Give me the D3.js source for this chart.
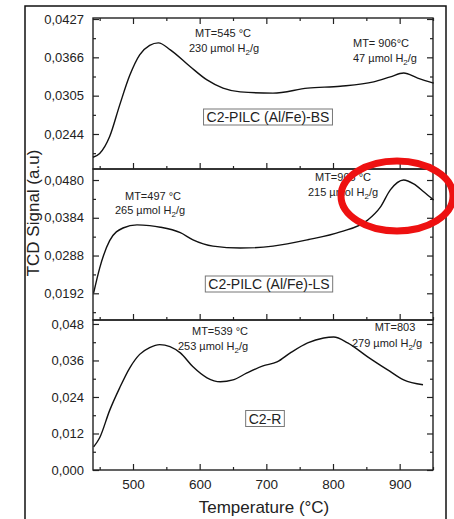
<!DOCTYPE html>
<html>
<head>
<meta charset="utf-8">
<script src="https://cdnjs.cloudflare.com/ajax/libs/d3/7.8.5/d3.min.js"></script>
<style>
    body { margin: 0; background: #fff; }
    svg text { font-family: "Liberation Sans", Arial, sans-serif; fill: #222; }
</style>
</head>
<body>
<div id="chart"></div>
<script>

// TPR curves (temperature in °C, TCD signal in a.u.)
let bsTemp = [440, 450, 465, 480, 495, 510, 525, 538, 556, 586, 611, 635, 661, 710, 762, 811, 861, 886, 906, 927, 951];
let bsSignal = [0.0207, 0.0213, 0.0240, 0.0290, 0.0337, 0.0370, 0.0385, 0.0389, 0.0378, 0.0351, 0.0330, 0.0317, 0.0311, 0.0309, 0.0317, 0.0320, 0.0327, 0.0335, 0.0341, 0.0333, 0.0325];

let lsTemp = [441, 450, 465, 485, 506, 525, 541, 571, 590, 620, 661, 710, 762, 811, 852, 871, 886, 906, 921, 936, 951];
let lsSignal = [0.0193, 0.0256, 0.0326, 0.0358, 0.0366, 0.0364, 0.0360, 0.0346, 0.0328, 0.0312, 0.0307, 0.0312, 0.0328, 0.0348, 0.0378, 0.0411, 0.0455, 0.0480, 0.0470, 0.0450, 0.0429];

let rTemp = [441, 450, 465, 480, 495, 510, 525, 540, 571, 590, 611, 631, 650, 671, 695, 716, 736, 762, 786, 801, 822, 852, 882, 906, 935];
let rSignal = [0.0076, 0.0106, 0.0196, 0.0270, 0.0335, 0.0380, 0.0402, 0.0412, 0.0385, 0.0339, 0.0303, 0.0290, 0.0296, 0.0319, 0.0342, 0.0355, 0.0385, 0.0418, 0.0434, 0.0437, 0.0418, 0.0372, 0.0329, 0.0296, 0.0280];

// tick values
let xTicks = [500, 600, 700, 800, 900];
let bsTicks = [0.0244, 0.0305, 0.0366, 0.0427];
let lsTicks = [0.0192, 0.0288, 0.0384, 0.0480];
let rTicks = [0.000, 0.012, 0.024, 0.036, 0.048];

// sample names and peak notes
let sampleNames = ["C2-PILC (Al/Fe)-BS", "C2-PILC (Al/Fe)-LS", "C2-R"];
let peakTemps = [["MT=545 °C", "MT= 906°C"], ["MT=497 °C", "MT=906 °C"], ["MT=539 °C", "MT=803"]];
let peakAmounts = [["230 µmol H", "47 µmol H"], ["265 µmol H", "215 µmol H"], ["253 µmol H", "279 µmol H"]];

let width = 454, height = 519;
let left = 93, right = 433;

let svg = d3.select("#chart").append("svg")
    .attr("width", width)
    .attr("height", height);

// outer frame (runs past the bottom of the picture)
svg.append("rect")
    .attr("x", 25).attr("y", 6)
    .attr("width", 421).attr("height", 530)
    .attr("fill", "none")
    .attr("stroke", "#111")
    .attr("stroke-width", 1.5);

let x = d3.scaleLinear().domain([440, 950]).range([left, right]);

// one panel per sample
let panels = [
    {temp: bsTemp, signal: bsSignal, ticks: bsTicks, top: 18, bottom: 169, domain: [0.01883, 0.04286], digits: 4,
        notes: [[223, 37, 224, 52], [381, 47, 385, 62]], box: [268, 117]},
    {temp: lsTemp, signal: lsSignal, ticks: lsTicks, top: 169, bottom: 320, domain: [0.01241, 0.0508], digits: 4,
        notes: [[153, 200, 150, 214], [343, 181, 343, 196]], box: [269, 284]},
    {temp: rTemp, signal: rSignal, ticks: rTicks, top: 320, bottom: 470, domain: [0, 0.0493], digits: 3,
        notes: [[220, 335, 213, 350], [395, 331, 387, 347]], box: [265, 418.5]}
];

let comma = (v, digits) => v.toFixed(digits).replace(".", ",");

panels.forEach((p, i) => {
    let y = d3.scaleLinear().domain(p.domain).range([p.bottom, p.top]);
    let step = p.ticks[1] - p.ticks[0];
    let minorY = p.ticks.map(t => t + step / 2).concat([p.ticks[0] - step / 2])
        .filter(t => t > p.domain[0] && t < p.domain[1]);
    let g = svg.append("g");

    // left axis with labels, inward ticks
    let yAxisL = g.append("g")
        .attr("transform", "translate(" + left + ",0)")
        .call(d3.axisLeft(y).tickValues(p.ticks).tickSize(-6).tickPadding(9).tickFormat(d => comma(d, p.digits)));
    yAxisL.select(".domain").remove();
    yAxisL.selectAll("text").style("font-size", "13px").attr("fill", "#222");
    g.append("g")
        .attr("transform", "translate(" + left + ",0)")
        .call(d3.axisLeft(y).tickValues(minorY).tickSize(-3).tickFormat(""))
        .select(".domain").remove();

    // right axis, no labels
    g.append("g")
        .attr("transform", "translate(" + right + ",0)")
        .call(d3.axisRight(y).tickValues(p.ticks).tickSize(-6).tickFormat(""))
        .select(".domain").remove();
    g.append("g")
        .attr("transform", "translate(" + right + ",0)")
        .call(d3.axisRight(y).tickValues(minorY).tickSize(-3).tickFormat(""))
        .select(".domain").remove();

    // bottom axis, ticks pointing up
    let xAxis = g.append("g")
        .attr("transform", "translate(0," + p.bottom + ")")
        .call(d3.axisBottom(x).tickValues(xTicks).tickSize(-6).tickPadding(9).tickFormat(i === 2 ? d3.format("d") : ""));
    xAxis.select(".domain").remove();
    xAxis.selectAll("text").style("font-size", "13.5px").attr("fill", "#222");
    g.append("g")
        .attr("transform", "translate(0," + p.bottom + ")")
        .call(d3.axisBottom(x).tickValues(d3.range(450, 951, 100)).tickSize(-3).tickFormat(""))
        .select(".domain").remove();

    // top ticks only on the first panel
    if (i === 0) {
        g.append("g")
            .attr("transform", "translate(0," + p.top + ")")
            .call(d3.axisTop(x).tickValues(xTicks).tickSize(-6).tickFormat(""))
            .select(".domain").remove();
        g.append("g")
            .attr("transform", "translate(0," + p.top + ")")
            .call(d3.axisTop(x).tickValues(d3.range(450, 951, 100)).tickSize(-3).tickFormat(""))
            .select(".domain").remove();
    }

    g.selectAll(".tick line").attr("stroke", "#222").attr("stroke-width", 1.2);

    // panel frame
    g.append("rect")
        .attr("x", left).attr("y", p.top)
        .attr("width", right - left).attr("height", p.bottom - p.top)
        .attr("fill", "none")
        .attr("stroke", "#222")
        .attr("stroke-width", 1.4);

    // curve
    let line = d3.line()
        .x(d => x(d[0]))
        .y(d => y(d[1]))
        .curve(d3.curveMonotoneX);
    g.append("path")
        .datum(p.temp.map((t, k) => [t, p.signal[k]]))
        .attr("d", line)
        .attr("fill", "none")
        .attr("stroke", "#111")
        .attr("stroke-width", 1.4);

    // peak notes
    p.notes.forEach((n, k) => {
        g.append("text")
            .attr("x", n[0]).attr("y", n[1])
            .attr("text-anchor", "middle")
            .style("font-size", "11px")
            .text(peakTemps[i][k]);
        let t = g.append("text")
            .attr("x", n[2]).attr("y", n[3])
            .attr("text-anchor", "middle")
            .style("font-size", "11px");
        t.append("tspan").text(peakAmounts[i][k]);
        t.append("tspan").attr("dy", 3).style("font-size", "8px").text("2");
        t.append("tspan").attr("dy", -3).text("/g");
    });

    // sample name in a box
    let label = g.append("text")
        .attr("x", p.box[0]).attr("y", p.box[1] + 5)
        .attr("text-anchor", "middle")
        .style("font-size", "14px")
        .text(sampleNames[i]);
    let bb = label.node().getBBox();
    g.insert("rect", () => label.node())
        .attr("x", bb.x - 3).attr("y", bb.y)
        .attr("width", bb.width + 6).attr("height", bb.height)
        .attr("fill", "#fff")
        .attr("stroke", "#777")
        .attr("stroke-width", 1);
});

// axis titles
svg.append("text")
    .attr("x", 264).attr("y", 513)
    .attr("text-anchor", "middle")
    .style("font-size", "17px")
    .text("Temperature (°C)");

svg.append("text")
    .attr("transform", "translate(39,213) rotate(-90)")
    .attr("text-anchor", "middle")
    .style("font-size", "17px")
    .text("TCD Signal (a.u)");

// red highlight ellipse
svg.append("ellipse")
    .attr("cx", 397).attr("cy", 196)
    .attr("rx", 56).attr("ry", 35)
    .attr("fill", "none")
    .attr("stroke", "#ee1111")
    .attr("stroke-width", 7);

</script>
</body>
</html>
